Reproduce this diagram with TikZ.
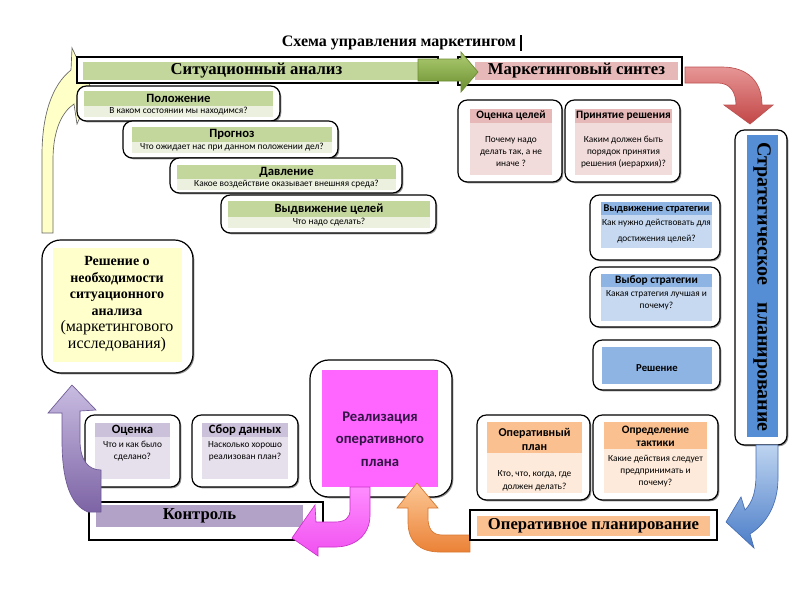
\documentclass[tikz,border=0pt]{standalone}
\usepackage{fontspec}
\setmainfont{Liberation Serif}
\newfontfamily\calfont{Carlito}
\usetikzlibrary{fit,shadows}
\definecolor{gH}{RGB}{195,214,155}
\definecolor{gL}{RGB}{235,241,222}
\definecolor{pH}{RGB}{230,185,184}
\definecolor{pL}{RGB}{242,220,219}
\definecolor{bS}{RGB}{85,142,213}
\definecolor{bH}{RGB}{142,180,227}
\definecolor{bL}{RGB}{198,217,241}
\definecolor{oH}{RGB}{250,192,144}
\definecolor{oL}{RGB}{253,234,218}
\definecolor{vH}{RGB}{179,162,199}
\definecolor{vM}{RGB}{204,193,218}
\definecolor{vL}{RGB}{230,224,236}
\definecolor{mg}{RGB}{255,102,255}
\definecolor{yl}{RGB}{255,255,204}
\definecolor{ylA}{RGB}{255,255,200}
\definecolor{rtxt}{RGB}{50,20,70}
\begin{document}
\begin{tikzpicture}[x=0.75pt,y=-0.75pt,
  rbox/.style={draw=black, line width=0.9pt, rounded corners=7pt, fill=white, inner sep=0pt,
    drop shadow={shadow xshift=1pt,shadow yshift=-1pt,fill=black!60,opacity=0.7}},
  framebox/.style={draw=black, line width=0.9pt, fill=white, inner sep=0pt},
  bar/.style={inner sep=0pt, draw=none},
  hdr/.style={font=\calfont\bfseries\fontsize{9.5}{11}\selectfont, align=center, inner sep=0pt},
  hds/.style={font=\calfont\bfseries\fontsize{8.5}{10}\selectfont, align=center, inner sep=0pt},
  sml/.style={font=\calfont\fontsize{7}{9}\selectfont, align=center, inner sep=0pt},
  big/.style={font=\bfseries\fontsize{12.5}{14}\selectfont, inner sep=0pt},
  barrow/.style={line width=0.5pt}]
\useasboundingbox[fill=white] (0,0) rectangle (800,600);

% title
\node[font=\bfseries\fontsize{12}{14}\selectfont] (title) at (399,43) {Схема управления маркетингом};
\draw[line width=1pt] (521,35) -- (521,51);

% yellow curved arrow
\path[barrow, draw=black!60, fill=ylA] (42,233) -- (53,233) -- (53,160)
  .. controls (53,130) and (62,112) .. (74,104) -- (77,124) -- (92,90) -- (72,48) -- (71,70)
  .. controls (52,85) and (42,115) .. (42,155) -- cycle;

% top frames
\node[framebox, fit={(77,57) (438,83)}] (saf) {};
\node[bar, fill=gH, fit={(83,62) (430,80)}] (sa) {};
\node[big] (sat) at (sa.center) {Ситуационный анализ};
\node[framebox, fit={(458,57) (682,85)}] (msf) {};
\node[bar, fill=pH, fit={(475,62) (678,80)}] (ms) {};
\node[big] (mst) at (ms.center) {Маркетинговый синтез};

% green arrow
\path[barrow, draw={rgb,255:red,110;green,140;blue,50}, top color={rgb,255:red,175;green,205;blue,115}, bottom color={rgb,255:red,105;green,140;blue,45}]
  (418,59) -- (461,59) -- (461,52) -- (478,72) -- (461,92) -- (461,81) -- (418,81) -- cycle;

% red curved arrow
\path[barrow, draw={rgb,255:red,190;green,80;blue,80}, top color={rgb,255:red,230;green,150;blue,150}, bottom color={rgb,255:red,195;green,70;blue,70}]
  (685,67) -- (722,67) .. controls (748,67) and (762,82) .. (762,105) -- (773,105) -- (750,124)
  -- (724,105) -- (736,105) .. controls (736,92) and (730,83) .. (718,83) -- (685,83) -- cycle;

% situational analysis steps
\node[rbox, fit={(77,86) (280,121)}] (pol) {};
\node[bar, fill=gH, fit={(84,91) (273,106)}] (polh) {};
\node[bar, fill=gL, fit={(84,106) (273,117)}] (pols) {};
\node[hdr] (polht) at (polh.center) {Положение};
\node[sml] (polst) at (pols.center) {В каком состоянии мы находимся?};

\node[rbox, fit={(123,121) (338,158)}] (pro) {};
\node[bar, fill=gH, fit={(132,127) (332,142)}] (proh) {};
\node[bar, fill=gL, fit={(132,142) (332,153)}] (pros) {};
\node[hdr] (proht) at (proh.center) {Прогноз};
\node[sml] (prost) at (pros.center) {Что ожидает нас при данном положении дел?};

\node[rbox, fit={(170,158) (402,193)}] (dav) {};
\node[bar, fill=gH, fit={(177,165) (396,179)}] (davh) {};
\node[bar, fill=gL, fit={(177,179) (396,190)}] (davs) {};
\node[hdr] (davht) at (davh.center) {Давление};
\node[sml] (davst) at (davs.center) {Какое воздействие оказывает внешняя среда?};

\node[rbox, fit={(221,195) (436,233)}] (vyd) {};
\node[bar, fill=gH, fit={(228,201) (430,217)}] (vydh) {};
\node[bar, fill=gL, fit={(228,217) (430,228)}] (vyds) {};
\node[hdr] (vydht) at (vydh.center) {Выдвижение целей};
\node[sml] (vydst) at (vyds.center) {Что надо сделать?};

% marketing synthesis boxes
\node[rbox, fit={(458,100) (562,182)}] (oc) {};
\node[bar, fill=pH, fit={(470,109) (552,123)}] (och) {};
\node[bar, fill=pL, fit={(470,123) (552,175)}] (ocs) {};
\node[hds] (ocht) at (och.center) {Оценка целей};
\node[sml] (ocst) at (511,152) {Почему надо\\делать так, а не\\иначе ?};

\node[rbox, fit={(565,100) (680,182)}] (pr) {};
\node[bar, fill=pH, fit={(575,109) (672,123)}] (prh) {};
\node[bar, fill=pL, fit={(575,123) (672,175)}] (prs) {};
\node[hds] (prht) at (prh.center) {Принятие решения};
\node[sml] (prst) at (623.5,152) {Каким должен быть\\порядок принятия\\решения (иерархия)?};

% strategic planning
\node[rbox, fit={(735,130) (787,445)}] (stb) {};
\node[bar, fill=bS, fit={(747,135) (778,437)}] (sti) {};
\node[rotate=-90, font=\bfseries\fontsize{15}{16}\selectfont] (stt) at (762,287) {Стратегическое\hspace{0.6em} планирование};

% blue curved arrow
\path[barrow, draw={rgb,255:red,70;green,110;blue,180}, top color={rgb,255:red,190;green,212;blue,240}, bottom color={rgb,255:red,75;green,125;blue,200}]
  (756,445) -- (778,445) -- (778,478) .. controls (778,505) and (766,524) .. (750,534) -- (754,548)
  -- (726,522) -- (741,497) -- (745,510) .. controls (753,502) and (756,490) .. (756,475) -- cycle;

% strategy boxes
\node[rbox, fit={(590,195) (720,260)}] (vs) {};
\node[bar, fill=bH, fit={(601,202) (712,215)}] (vsh) {};
\node[bar, fill=bL, fit={(601,215) (712,248)}] (vss) {};
\node[hds, font=\calfont\bfseries\fontsize{7.8}{10}\selectfont] (vsht) at (vsh.center) {Выдвижение стратегии};
\node[sml, font=\calfont\fontsize{7}{12}\selectfont] (vsst) at (656.5,231) {Как нужно действовать для\\достижения целей?};

\node[rbox, fit={(590,267) (720,327)}] (vb) {};
\node[bar, fill=bH, fit={(601,274) (712,287)}] (vbh) {};
\node[bar, fill=bL, fit={(601,287) (712,321)}] (vbs) {};
\node[hds] (vbht) at (vbh.center) {Выбор стратегии};
\node[sml] (vbst) at (656.5,300) {Какая стратегия лучшая и\\почему?};

\node[rbox, fit={(593,340) (720,390)}] (rs) {};
\node[bar, fill=bH, fit={(602,347) (712,384)}] (rsh) {};
\node[hds, font=\calfont\bfseries\fontsize{8}{10}\selectfont] (rsht) at (657,368) {Решение};

% decision box
\node[rbox, rounded corners=14pt, fit={(42,240) (193,373)}] (dec) {};
\node[bar, fill=yl, fit={(53,248) (182,362)}] (deci) {};
\node[font=\bfseries\fontsize{10.5}{12.4}\selectfont, align=center] (dect) at (117,286) {Решение о\\необходимости\\ситуационного\\анализа};
\node[font=\fontsize{12}{12.4}\selectfont, align=center] (decn) at (117,336) {(маркетингового\\исследования)};

% realization box
\node[rbox, rounded corners=14pt, fit={(310,360) (452,497)}] (rea) {};
\node[bar, fill=mg, fit={(322,370) (438,487)}] (reai) {};
\node[font=\calfont\bfseries\fontsize{11}{17}\selectfont, align=center, text=rtxt] (reat) at (380,439) {Реализация\\оперативного\\плана};

% operational planning
\node[rbox, fit={(477,415) (590,500)}] (op) {};
\node[bar, fill=oH, fit={(487,422) (582,453)}] (oph) {};
\node[bar, fill=oL, fit={(487,453) (582,493)}] (ops) {};
\node[hdr, font=\calfont\bfseries\fontsize{9}{11}\selectfont] (opht) at (534.5,439.5) {Оперативный\\план};
\node[sml, font=\calfont\fontsize{7}{10}\selectfont] (opst) at (534.5,480.5) {Кто, что, когда, где\\должен делать?};

\node[rbox, fit={(593,415) (718,500)}] (ot) {};
\node[bar, fill=oH, fit={(604,422) (707,449)}] (oth) {};
\node[bar, fill=oL, fit={(604,449) (707,493)}] (ots) {};
\node[hds] (otht) at (655.5,436.5) {Определение\\тактики};
\node[sml] (otst) at (655.5,471) {Какие действия следует\\предпринимать и\\почему?};

% orange arrow
\path[barrow, draw={rgb,255:red,215;green,120;blue,50}, top color={rgb,255:red,252;green,200;blue,150}, bottom color={rgb,255:red,235;green,130;blue,55}]
  (470,535) -- (442,535) .. controls (432,535) and (428,528) .. (428,518) -- (428,508) -- (438,508)
  -- (417,483) -- (397,508) -- (408,508) -- (408,522) .. controls (408,542) and (420,552) .. (440,552)
  -- (470,552) -- cycle;
\node[framebox, fit={(470,510) (717,540)}] (opf) {};
\node[bar, fill=oH, fit={(477,516) (710,536)}] (opl) {};
\node[big] (oplt) at (opl.center) {Оперативное планирование};

% control
\node[rbox, fit={(85,415) (180,487)}] (oc2) {};
\node[bar, fill=vM, fit={(95,423) (170,437)}] (oc2h) {};
\node[bar, fill=vL, fit={(95,437) (170,479)}] (oc2s) {};
\node[hdr] (oc2ht) at (oc2h.center) {Оценка};
\node[sml] (oc2st) at (132.5,451) {Что и как было\\сделано?};

\node[rbox, fit={(192,415) (298,487)}] (sd) {};
\node[bar, fill=vM, fit={(202,423) (288,437)}] (sdh) {};
\node[bar, fill=vL, fit={(202,437) (288,479)}] (sds) {};
\node[hdr] (sdht) at (sdh.center) {Сбор данных};
\node[sml] (sdst) at (245,451) {Насколько хорошо\\реализован план?};

\node[framebox, fit={(89,502) (323,540)}] (ctf) {};
\node[bar, fill=vH, fit={(96,505) (303,527)}] (ctl) {};
\node[big] (ctlt) at (ctl.center) {Контроль};

% purple arrow
\path[barrow, draw={rgb,255:red,110;green,90;blue,150}, top color={rgb,255:red,200;green,188;blue,225}, bottom color={rgb,255:red,125;green,100;blue,165}]
  (101,470) -- (101,512) -- (88,512) .. controls (70,505) and (62,480) .. (62,440) -- (62,413)
  -- (48,413) -- (72,385) -- (96,410) -- (80,411) -- (80,440) .. controls (80,460) and (88,470) .. (101,470) -- cycle;

% magenta arrow
\path[barrow, draw={rgb,255:red,200;green,50;blue,200}, top color={rgb,255:red,255;green,140;blue,255}, bottom color={rgb,255:red,240;green,80;blue,240}]
  (350,487) -- (370,487) -- (370,515) .. controls (370,535) and (355,547) .. (335,547) -- (318,547)
  -- (318,556) -- (292,538) -- (315,505) -- (316,522) -- (335,522) .. controls (345,522) and (350,518) .. (350,510) -- cycle;

\end{tikzpicture}
\end{document}
